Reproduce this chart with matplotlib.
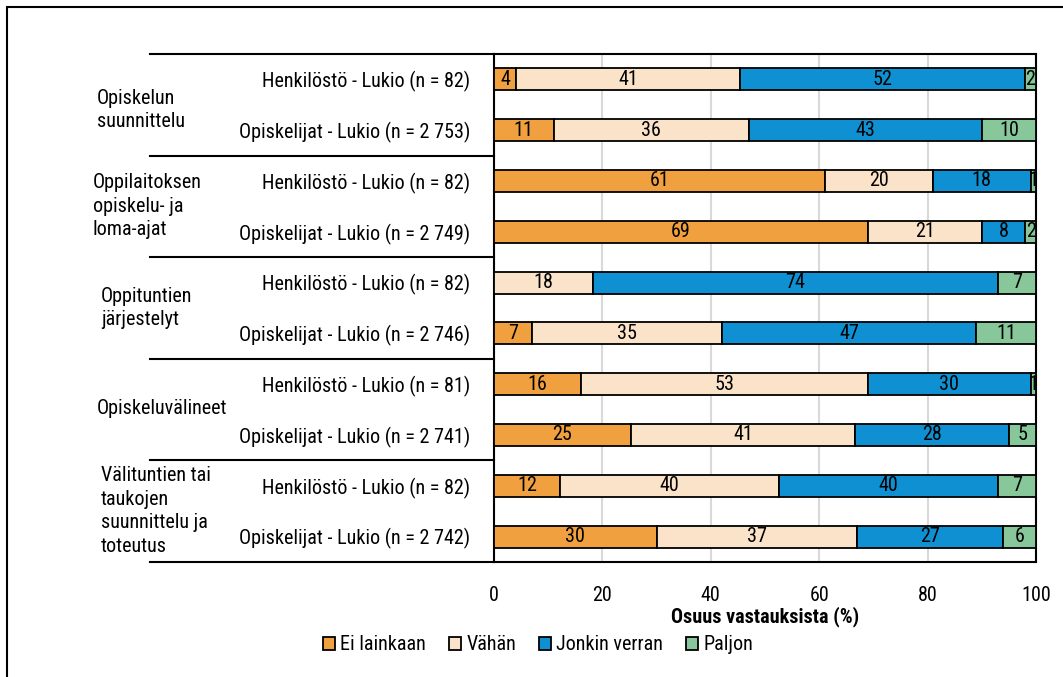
import numpy as np
import matplotlib.pyplot as plt
from matplotlib import font_manager
from matplotlib.patches import Patch, Rectangle
from matplotlib.lines import Line2D

names = set(f.name for f in font_manager.fontManager.ttflist)
narrow = None
for cand in ['Liberation Sans Narrow', 'Roboto Condensed']:
    if cand in names:
        narrow = cand
        break

groups = ['Opiskelun\nsuunnittelu',
          'Oppilaitoksen\nopiskelu- ja\nloma-ajat',
          'Oppituntien\njärjestelyt',
          'Opiskeluvälineet',
          'Välituntien tai\ntaukojen\nsuunnittelu ja\ntoteutus']
rows = ['Henkilöstö - Lukio (n = 82)', 'Opiskelijat - Lukio (n = 2 753)',
        'Henkilöstö - Lukio (n = 82)', 'Opiskelijat - Lukio (n = 2 749)',
        'Henkilöstö - Lukio (n = 82)', 'Opiskelijat - Lukio (n = 2 746)',
        'Henkilöstö - Lukio (n = 81)', 'Opiskelijat - Lukio (n = 2 741)',
        'Henkilöstö - Lukio (n = 82)', 'Opiskelijat - Lukio (n = 2 742)']
series = ['Ei lainkaan', 'Vähän', 'Jonkin verran', 'Paljon']
ei_lainkaan = [4, 11, 61, 69, 0, 7, 16, 25, 12, 30]
vahan = [41, 36, 20, 21, 18, 35, 53, 41, 40, 37]
jonkin_verran = [52, 43, 18, 8, 74, 47, 30, 28, 40, 27]
paljon = [2, 10, 1, 2, 7, 11, 1, 5, 7, 6]
colors = ['#F0A03F', '#FBE3C9', '#0E90D2', '#87C79A']

if narrow == 'Liberation Sans Narrow':
    fs = 15
elif narrow is not None:
    fs = 14.5
else:
    fs = 12.8
plt.rcParams['font.family'] = [narrow or 'Liberation Sans', 'DejaVu Sans']

W, H = 1063, 677
fig = plt.figure(figsize=(W / 100, H / 100), dpi=100)
ax = fig.add_axes([494 / W, 1 - 562 / H, 542 / W, 508 / H])

vals = np.array([ei_lainkaan, vahan, jonkin_verran, paljon], dtype=float)
widths = vals / vals.sum(axis=0) * 100  # labels are rounded, bars fill to 100
y = np.arange(len(rows))
left = np.zeros(len(rows))
for k in range(len(series)):
    ax.barh(y, widths[k], left=left, height=0.43, color=colors[k],
            edgecolor='black', linewidth=1.3, label=series[k], zorder=3)
    for i in range(len(rows)):
        if vals[k, i] > 0:
            ax.text(left[i] + widths[k, i] / 2, y[i], '%d' % vals[k, i],
                    ha='center', va='center', fontsize=fs, zorder=4)
    left += widths[k]

ax.set_xlim(0, 100)
ax.set_ylim(len(rows) - 0.5, -0.5)
ax.set_xticks([0, 20, 40, 60, 80, 100])
ax.tick_params(axis='x', length=0, pad=17, labelsize=fs)
ax.set_yticks(y)
ax.set_yticklabels(rows, fontsize=fs)
ax.tick_params(axis='y', length=0, pad=17)
ax.grid(axis='x', color='#D9D9D9', linewidth=1.5, zorder=0)
for s in ax.spines.values():
    s.set_linewidth(1.5)
    s.set_color('black')
ax.set_xlabel('Osuus vastauksista (%)', fontsize=fs, fontweight='bold', labelpad=1)

# group separators and group labels
ytr = ax.get_yaxis_transform()
for b in [-0.5, 1.5, 3.5, 5.5, 7.5, 9.5]:
    ax.add_line(Line2D([(150 - 494) / 542, 0], [b, b], transform=ytr,
                       color='black', linewidth=1.5, clip_on=False))
group_x = [97, 93, 101, 97, 101]
group_y = [0.6, 2.5, 4.5, 6.48, 8.5]
for g, name in enumerate(groups):
    ax.text((group_x[g] - 494) / 542, group_y[g], name, transform=ytr,
            ha='left', va='center', fontsize=fs, linespacing=1.3)

handles = [Patch(facecolor=c, edgecolor='black', linewidth=1.3) for c in colors]
fig.legend(handles, series, loc='center', bbox_to_anchor=(538 / W, 1 - 645 / H),
           ncol=4, frameon=False, fontsize=fs, handlelength=0.6, handleheight=0.6,
           handletextpad=0.25, columnspacing=1.15)

fig.add_artist(Rectangle((7 / W, -0.05), 1.1, 1.05 - 7 / H, transform=fig.transFigure,
                         fill=False, edgecolor='black', linewidth=1.5))

fig.savefig('out.png', dpi=100)
